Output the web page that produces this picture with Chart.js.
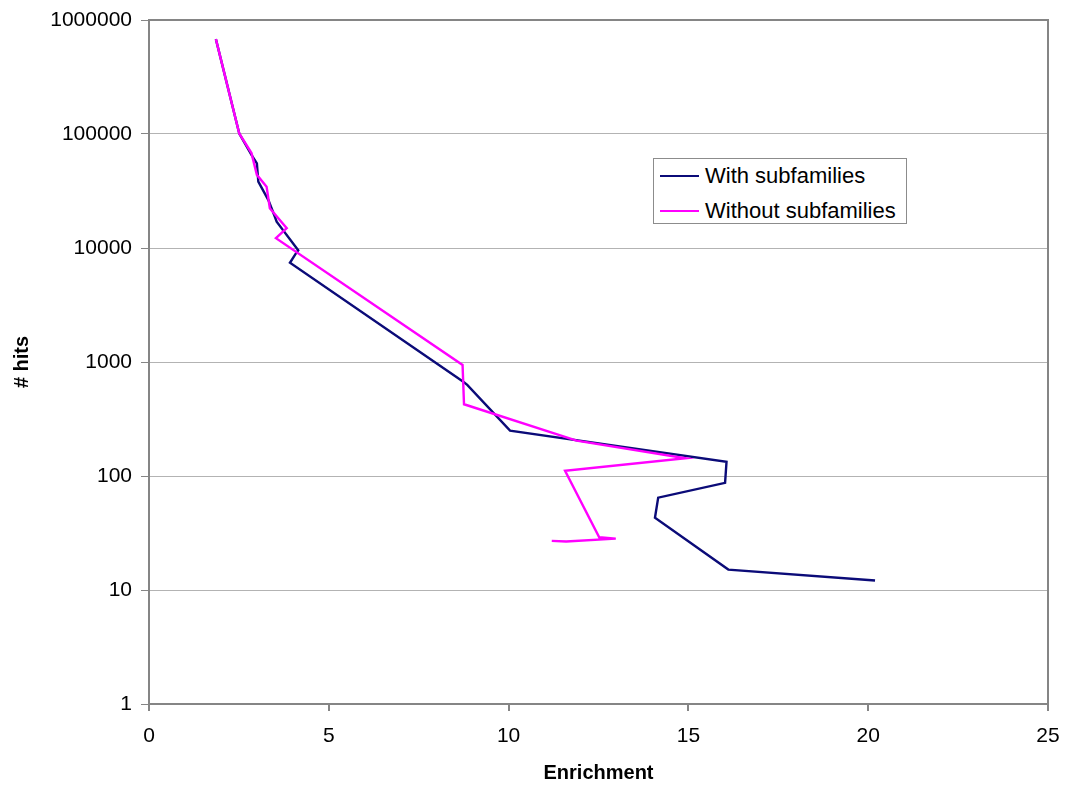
<!DOCTYPE html>
<html>
<head>
<meta charset="utf-8">
<script src="https://cdn.jsdelivr.net/npm/chart.js@4/dist/chart.umd.min.js"></script>
<style>
  body { margin: 0; background: #fff; }
  #wrap { position: relative; width: 1069px; height: 789px; }
  #legend {
    position: absolute; left: 653px; top: 158px; width: 252px; height: 64px;
    border: 1px solid #8c8c8c; background: #fff;
    font-family: "Liberation Sans", Arial, sans-serif; font-size: 22px; color: #000;
  }
  #legend .row { position: absolute; left: 0; height: 24px; line-height: 24px; white-space: nowrap; }
  #legend .swatch { position: absolute; left: 6px; top: 11px; width: 39px; height: 2px; }
  #legend .label { position: absolute; left: 51px; top: 0; }
</style>
</head>
<body>
<div id="wrap">
  <canvas id="myChart" width="1069" height="789"></canvas>
  <div id="legend"></div>
</div>
<script>
// Series: enrichment (x) vs number of hits (y)
var withEnrich = [1.86, 2.51, 2.85, 3.0, 3.04, 3.32, 3.5, 3.55, 4.15, 4.09, 3.92, 8.74, 8.85, 10.04, 16.06, 16.02, 14.16, 14.07, 16.11, 20.19];
var withHits   = [680000, 101000, 65500, 55300, 38200, 26300, 18800, 17000, 9550, 9000, 7420, 671, 630, 250, 133, 87, 64.6, 43, 15.1, 12.1];

var withoutEnrich = [1.86, 2.51, 2.85, 3.0, 3.27, 3.36, 3.83, 3.53, 8.72, 8.76, 11.89, 14.92, 11.57, 12.52, 12.98, 11.6, 11.2];
var withoutHits   = [680000, 101000, 68000, 43800, 34500, 22300, 14900, 12200, 942, 426, 204, 143, 111, 29, 28.2, 26.6, 27.0];

var seriesNames  = ['With subfamilies', 'Without subfamilies'];
var seriesColors = ['#0b0b78', '#ff00ff'];

var xTicks = [0, 5, 10, 15, 20, 25];
var yTicks = [1, 10, 100, 1000, 10000, 100000, 1000000];

function toPoints(xs, ys) {
    return xs.map(function(x, i) { return { x: x, y: ys[i] }; });
}

var axisGray = '#858585';
var font = "'Liberation Sans', Arial, sans-serif";

// gray frame on top and right of the plot area
var framePlugin = {
    id: 'frame',
    beforeDatasetsDraw: function(chart) {
        var a = chart.chartArea, ctx = chart.ctx;
        ctx.save();
        ctx.strokeStyle = axisGray;
        ctx.lineWidth = 2;
        ctx.beginPath();
        ctx.moveTo(a.left, a.top);
        ctx.lineTo(a.right, a.top);
        ctx.lineTo(a.right, a.bottom);
        ctx.stroke();
        ctx.restore();
    }
};

var ctx = document.getElementById('myChart').getContext('2d');
var chart = new Chart(ctx, {
    type: 'scatter',
    data: {
        datasets: [{
            label: seriesNames[0],
            data: toPoints(withEnrich, withHits),
            showLine: true,
            borderColor: seriesColors[0],
            backgroundColor: seriesColors[0],
            borderWidth: 2.4,
            pointRadius: 0,
            tension: 0,
            order: 2
        }, {
            label: seriesNames[1],
            data: toPoints(withoutEnrich, withoutHits),
            showLine: true,
            borderColor: seriesColors[1],
            backgroundColor: seriesColors[1],
            borderWidth: 2.4,
            pointRadius: 0,
            tension: 0,
            order: 1
        }]
    },
    options: {
        responsive: false,
        animation: false,
        layout: { padding: { left: 6, top: 20, right: 21, bottom: 0 } },
        plugins: {
            legend: { display: false },
            tooltip: { enabled: false }
        },
        scales: {
            x: {
                type: 'linear',
                min: 0,
                max: 25,
                afterBuildTicks: function(scale) {
                    scale.ticks = xTicks.map(function(v) { return { value: v }; });
                },
                afterFit: function(scale) {
                    scale.height = 85;
                    scale.paddingLeft = 0;
                    scale.paddingRight = 0;
                },
                grid: { drawOnChartArea: false, drawTicks: true, tickLength: 7, color: axisGray, lineWidth: 2 },
                border: { color: axisGray, width: 2 },
                ticks: { color: '#000', font: { family: font, size: 21 }, padding: 13, maxRotation: 0 },
                title: { display: true, text: 'Enrichment', color: '#000', font: { family: font, size: 20, weight: 'bold' }, padding: { top: 10 } }
            },
            y: {
                type: 'logarithmic',
                min: 1,
                max: 1000000,
                afterBuildTicks: function(scale) {
                    scale.ticks = yTicks.map(function(v) { return { value: v }; });
                },
                afterFit: function(scale) {
                    scale.width = 143;
                    scale.paddingTop = 0;
                    scale.paddingBottom = 0;
                },
                grid: {
                    color: '#b3b3b3',
                    lineWidth: 1,
                    tickLength: 8,
                    tickColor: axisGray,
                    tickWidth: 1
                },
                border: { color: axisGray, width: 2 },
                ticks: {
                    color: '#000',
                    font: { family: font, size: 21 },
                    padding: 9,
                    callback: function(v) { return String(v); }
                },
                title: { display: true, text: '# hits', color: '#000', font: { family: font, size: 20, weight: 'bold' }, padding: { bottom: 0 } }
            }
        }
    },
    plugins: [framePlugin]
});

// legend box drawn inside the plot like the original
var legend = document.getElementById('legend');
seriesNames.forEach(function(name, i) {
    var row = document.createElement('div');
    row.className = 'row';
    row.style.top = (5 + i * 35) + 'px';
    row.innerHTML = '<span class="swatch" style="background:' + seriesColors[i] + '"></span><span class="label">' + name + '</span>';
    legend.appendChild(row);
});
</script>
</body>
</html>
